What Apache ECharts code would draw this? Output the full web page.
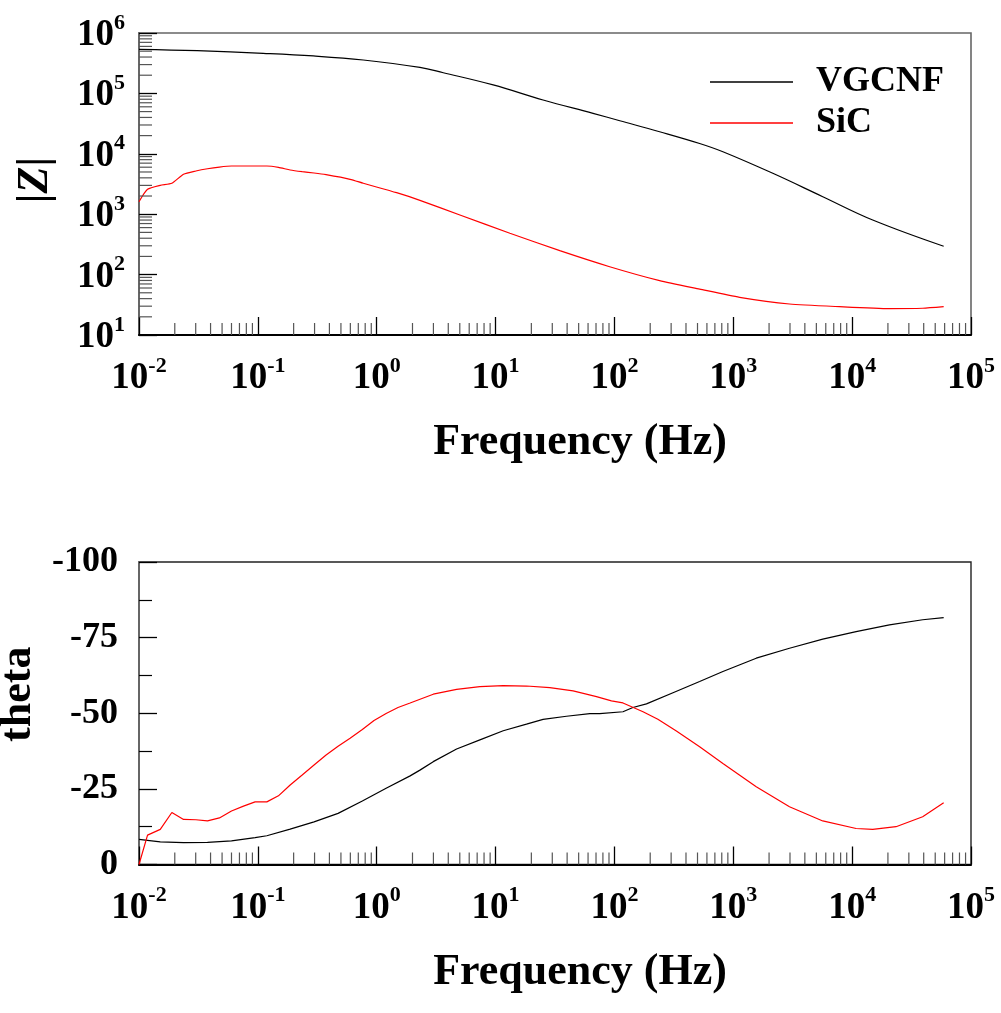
<!DOCTYPE html>
<html>
<head>
<meta charset="utf-8">
<script src="https://cdn.jsdelivr.net/npm/echarts@6/dist/echarts.min.js"></script>
<style>
  html, body { margin: 0; padding: 0; background: #fff; }
  #chart { width: 1001px; height: 1013px; }
</style>
</head>
<body>
<div id="chart"></div>
<script>
// Impedance magnitude |Z| (ohm) vs frequency (Hz)
const freqZ_VGCNF = [0.01, 0.0309, 0.111, 0.293, 0.771, 2.31, 3.63, 9.55, 25.1, 66.1, 111, 240, 521, 818, 2150, 5660, 14900, 58900];
const zVGCNF      = [537000, 509000, 461000, 417000, 357000, 269000, 220000, 138000, 77800, 46800, 35300, 23200, 14800, 10800, 4750, 1950, 802, 295];

const freqZ_SiC = [0.01, 0.0118, 0.0151, 0.0189, 0.0237, 0.0301, 0.0377, 0.0475, 0.06, 0.0757, 0.0948, 0.119, 0.149, 0.187, 0.236, 0.297, 0.375, 0.597, 0.771, 1.47, 2.31, 5.01, 13.2, 34.7, 91.2, 240, 521, 1130, 2970, 7820, 20600, 39200, 58900];
const zSiC      = [1611, 2582, 3006, 3251, 4581, 5188, 5662, 6039, 6281, 6281, 6281, 6281, 5970, 5395, 5058, 4808, 4508, 3784, 3251, 2270, 1698, 971, 483, 249, 135, 79.4, 57.5, 42.1, 32.6, 29.4, 27.3, 27.7, 29.4];

// Phase angle theta (degrees) vs frequency (Hz)
const freqTheta_VGCNF = [0.01, 0.0151, 0.0237, 0.0377, 0.06, 0.0948, 0.119, 0.187, 0.297, 0.473, 0.757, 1.2, 1.91, 2.31, 2.99, 4.7, 7.38, 11.6, 18.2, 25.1, 39.5, 62.1, 75.2, 118, 143, 186, 311, 521, 818, 1560, 2970, 5660, 10800, 20600, 39200, 58900];
const thetaVGCNF      = [-8.3, -7.5, -7.2, -7.3, -7.8, -8.9, -9.5, -11.7, -14.1, -16.9, -21.0, -25.2, -29.3, -31.2, -34.0, -38.2, -41.2, -44.2, -46.4, -48.0, -49.0, -49.9, -49.9, -50.5, -51.9, -53.1, -56.8, -60.5, -63.8, -68.2, -71.5, -74.5, -77.0, -79.2, -80.9, -81.6];

const freqTheta_SiC = [0.01, 0.0118, 0.0151, 0.0189, 0.0237, 0.0301, 0.0377, 0.0475, 0.06, 0.0757, 0.0948, 0.119, 0.149, 0.187, 0.236, 0.297, 0.375, 0.473, 0.597, 0.757, 0.949, 1.2, 1.51, 1.91, 2.99, 4.7, 7.38, 11.6, 18.2, 28.6, 44.9, 70.6, 94.4, 118, 174, 232, 332, 521, 818, 1560, 2970, 5660, 10800, 14900, 23400, 39200, 58900];
const thetaSiC      = [0, -9.7, -11.6, -17.2, -14.9, -14.8, -14.4, -15.4, -17.7, -19.3, -20.7, -20.7, -22.7, -26.3, -29.6, -32.9, -36.2, -39.1, -41.7, -44.6, -47.6, -49.9, -51.9, -53.4, -56.3, -57.9, -58.8, -59.1, -59.0, -58.5, -57.4, -55.5, -54.1, -53.4, -50.5, -48.0, -44.1, -38.9, -33.4, -25.7, -19.1, -14.4, -11.9, -11.6, -12.5, -15.8, -20.4];

// Axis ranges and minor-tick layout
const freqMin = 0.01, freqMax = 100000;
const zMin = 10, zMax = 1000000;
const thetaTicks = { min: -100, max: 0, step: 25 };
const freqDecades = [-2, -1, 0, 1, 2, 3, 4];
const zDecades = [1, 2, 3, 4, 5];
const mantissas = [2, 3, 4, 5, 6, 7, 8, 9];

const FONT = '"Liberation Serif", "Times New Roman", serif';

function pairs(xs, ys) { return xs.map((x, i) => [x, ys[i]]); }

const freqMinor = [];
freqDecades.forEach(d => mantissas.forEach(m => freqMinor.push(m * Math.pow(10, d))));
const zMinor = [];
zDecades.forEach(d => mantissas.forEach(m => zMinor.push(m * Math.pow(10, d))));

const supRich = {
  b: { fontFamily: FONT, fontWeight: 'bold', fontSize: 37, color: '#000', verticalAlign: 'bottom' },
  s: { fontFamily: FONT, fontWeight: 'bold', fontSize: 22, color: '#000', verticalAlign: 'bottom', padding: [0, 0, 20, 0] }
};
function powLabel(v) {
  const e = Math.round(Math.log10(v));
  return '{b|10}{s|' + e + '}';
}

const nameStyle = { fontFamily: FONT, fontWeight: 'bold', fontSize: 44, color: '#000' };
const tickLabelPlain = { fontFamily: FONT, fontWeight: 'bold', fontSize: 36, color: '#000' };

function freqAxis(gridIndex) {
  return {
    type: 'log', logBase: 10, gridIndex: gridIndex,
    min: freqMin, max: freqMax,
    name: 'Frequency (Hz)', nameLocation: 'middle', nameGap: 86,
    nameTextStyle: Object.assign({ padding: [0, 0, 0, 50] }, nameStyle),
    axisLine: { show: true, lineStyle: { color: '#000', width: 2 } },
    axisTick: { show: true, inside: true, length: 18, lineStyle: { color: '#000', width: 1.3 } },
    axisLabel: { formatter: powLabel, rich: supRich, margin: 20 },
    splitLine: { show: false }
  };
}

// Draws short minor tick marks along the bottom or left edge of a grid
function xMinorTicks(xi, yi, yRef) {
  return {
    type: 'custom', xAxisIndex: xi, yAxisIndex: yi, silent: true, z: 5,
    data: freqMinor.map(f => [f, yRef]),
    renderItem: function (params, api) {
      const cs = params.coordSys;
      const x = api.coord([api.value(0), yRef])[0];
      const yb = cs.y + cs.height;
      return { type: 'line', shape: { x1: x, y1: yb, x2: x, y2: yb - 12 }, style: { stroke: '#555', lineWidth: 1.2 } };
    }
  };
}
function yMinorTicks(xi, yi) {
  return {
    type: 'custom', xAxisIndex: xi, yAxisIndex: yi, silent: true, z: 5,
    data: zMinor.map(v => [1, v]),
    renderItem: function (params, api) {
      const cs = params.coordSys;
      const y = api.coord([1, api.value(1)])[1];
      return { type: 'line', shape: { x1: cs.x, y1: y, x2: cs.x + 13, y2: y }, style: { stroke: '#555', lineWidth: 1.2 } };
    }
  };
}

const chart = echarts.init(document.getElementById('chart'), null, { renderer: 'canvas' });
chart.setOption({
  animation: false,
  backgroundColor: '#fff',
  grid: [
    { left: 139, top: 33, width: 832, height: 302, outerBoundsMode: 'none', containLabel: false, show: true, borderColor: '#666', borderWidth: 1.6, backgroundColor: 'transparent' },
    { left: 139, top: 562, width: 832, height: 302.5, outerBoundsMode: 'none', containLabel: false, show: true, borderColor: '#222', borderWidth: 1.4, backgroundColor: 'transparent' }
  ],
  legend: {
    data: ['VGCNF', 'SiC'],
    orient: 'vertical', left: 710, top: 64, padding: 0,
    icon: 'rect', itemWidth: 83, itemHeight: 1.5, itemGap: 5,
    textStyle: { fontFamily: FONT, fontWeight: 'bold', fontSize: 36, color: '#000', lineHeight: 36, padding: [0, 0, 0, 18] }
  },
  xAxis: [freqAxis(0), freqAxis(1)],
  yAxis: [
    {
      type: 'log', logBase: 10, gridIndex: 0, min: zMin, max: zMax,
      name: '{a||}{z|Z}{a||}', nameLocation: 'middle', nameGap: 81, nameRotate: 90,
      nameTextStyle: {
        padding: [0, 0, 0, 8],
        rich: {
          a: { fontFamily: FONT, fontWeight: 'bold', fontSize: 44, color: '#000' },
          z: { fontFamily: FONT, fontWeight: 'bold', fontStyle: 'italic', fontSize: 44, color: '#000' }
        }
      },
      axisLine: { show: true, lineStyle: { color: '#666', width: 2 } },
      axisTick: { show: true, inside: true, length: 18, lineStyle: { color: '#000', width: 1.3 } },
      axisLabel: { formatter: powLabel, rich: supRich, margin: 14 },
      splitLine: { show: false }
    },
    {
      type: 'value', gridIndex: 1, inverse: true,
      min: thetaTicks.min, max: thetaTicks.max, interval: thetaTicks.step,
      name: 'theta', nameLocation: 'middle', nameGap: 83, nameRotate: 90,
      nameTextStyle: Object.assign({ padding: [0, 0, 0, 38] }, nameStyle),
      axisLine: { show: true, lineStyle: { color: '#666', width: 2 } },
      axisTick: { show: true, inside: true, length: 18, lineStyle: { color: '#000', width: 1.3 } },
      minorTick: { show: true, splitNumber: 2, length: 13, lineStyle: { color: '#000', width: 1.2 } },
      axisLabel: Object.assign({ margin: 21 }, tickLabelPlain),
      splitLine: { show: false }
    }
  ],
  series: [
    {
      name: 'VGCNF', type: 'line', xAxisIndex: 0, yAxisIndex: 0,
      data: pairs(freqZ_VGCNF, zVGCNF), showSymbol: false, smooth: 0.4,
      lineStyle: { color: '#000', width: 1.2 }, itemStyle: { color: '#000' }
    },
    {
      name: 'SiC', type: 'line', xAxisIndex: 0, yAxisIndex: 0,
      data: pairs(freqZ_SiC, zSiC), showSymbol: false, smooth: 0.2,
      lineStyle: { color: '#ff0000', width: 1.2 }, itemStyle: { color: '#ff0000' }
    },
    {
      name: 'VGCNF', type: 'line', xAxisIndex: 1, yAxisIndex: 1,
      data: pairs(freqTheta_VGCNF, thetaVGCNF), showSymbol: false,
      lineStyle: { color: '#000', width: 1.2 }, itemStyle: { color: '#000' }
    },
    {
      name: 'SiC', type: 'line', xAxisIndex: 1, yAxisIndex: 1,
      data: pairs(freqTheta_SiC, thetaSiC), showSymbol: false,
      lineStyle: { color: '#ff0000', width: 1.2 }, itemStyle: { color: '#ff0000' }
    },
    xMinorTicks(0, 0, 100),
    yMinorTicks(0, 0),
    xMinorTicks(1, 1, -50)
  ]
});
</script>
</body>
</html>
